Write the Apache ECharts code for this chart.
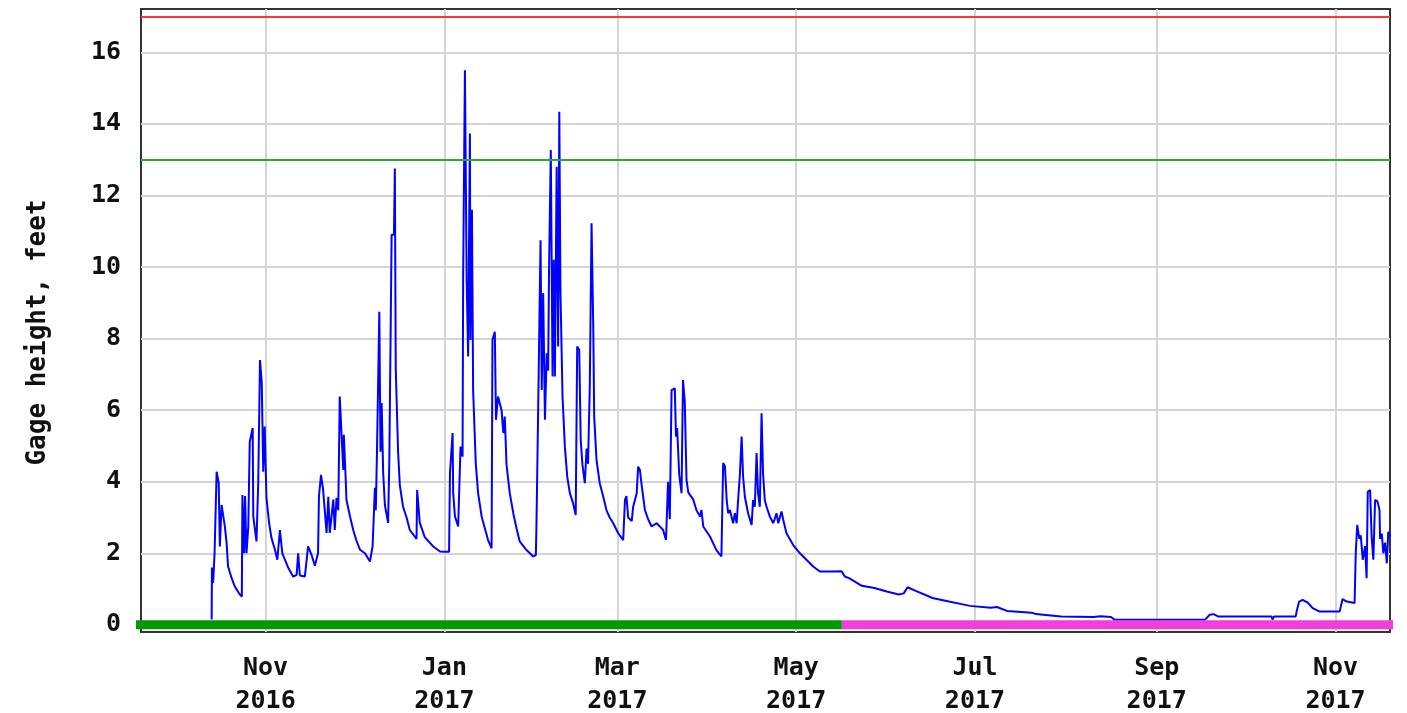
<!DOCTYPE html>
<html>
<head>
<meta charset="utf-8">
<title>Gage height</title>
<script src="https://cdn.jsdelivr.net/npm/echarts@6/dist/echarts.min.js"></script>
<style>
  html, body { margin: 0; padding: 0; background: #fff; }
  #main { width: 1407px; height: 713px; }
</style>
</head>
<body>
<div id="main"></div>
<script>
// days counted from 2016-11-01 (UTC), gage height in feet
const DAY = 86400000;
const BASE = Date.UTC(2016, 10, 1);

const days = [
  -18.4, -18.3, -17.9, -17.4, -16.7, -16.0, -15.6, -15.0, -13.9, -13.3, -12.8, -11.6, -10.5, -8.8, -8.1,
  -7.9, -7.3, -7.0, -6.5, -5.9, -5.4, -4.4, -4.2, -3.1, -2.5, -1.9, -1.3, -0.8, -0.3,
  0.3, 1.2, 2.0, 3.2, 4.0, 4.9, 5.7, 6.6, 7.7, 9.4, 10.6, 11.1, 11.7, 13.4, 14.5, 15.7, 16.8, 17.9, 18.2, 18.9,
  19.6, 20.8, 21.4, 21.9, 23.1, 23.6, 24.2, 24.8, 25.3, 25.9, 26.5, 26.7, 27.2, 27.6, 28.8, 29.9, 31.0, 32.2,
  33.9, 35.6, 36.5, 37.3, 37.6, 38.0, 38.8, 39.2, 39.6, 40.1, 40.7, 41.8, 42.2, 43.0, 43.8, 44.1, 44.4, 45.2,
  45.8, 46.9, 48.1, 49.2, 51.5, 51.7, 52.6, 54.3, 57.2, 59.5,
  61.2, 62.6, 62.9, 63.8, 64.0, 64.6, 65.7, 66.5, 67.2, 67.4, 68.0, 68.6, 69.1, 69.7, 69.9, 70.4, 70.8, 71.7,
  72.5, 73.7, 74.8, 75.9, 77.1, 77.4, 78.2, 78.6, 79.3, 80.5, 81.1, 81.6, 82.2, 83.3, 84.5, 85.6, 86.7, 89.0,
  91.3, 92.2, 92.4, 93.0, 93.8, 94.2, 94.7, 95.3, 95.9, 96.4, 96.7, 97.3, 97.9, 98.3, 98.7, 99.3, 99.8, 100.2,
  100.6, 101.3, 102.1, 102.9, 103.8, 104.9, 105.8, 106.3, 107.0, 107.5, 108.1, 108.9, 109.5, 110.0, 110.6,
  111.2, 111.8, 112.1, 112.9, 114.0, 115.2, 116.3, 117.4, 118.6, 120.3, 122.0, 122.6, 123.1, 123.7, 124.9,
  125.4, 126.6, 127.1, 127.7, 128.3, 129.4, 130.5, 131.7, 133.4, 134.5, 135.6, 136.6, 137.3, 137.9, 138.5,
  139.6, 140.0, 140.4, 141.1, 141.9, 142.4, 143.0, 143.6, 144.2, 145.9, 147.0,
  148.2, 148.7, 149.3, 151.6, 153.8, 155.5, 156.1, 156.7, 157.3, 157.8, 158.4, 159.5, 160.1, 160.7, 161.2,
  161.8, 162.4, 162.9, 163.5, 164.6, 165.8, 166.3, 166.9, 167.5, 168.0, 168.6, 169.2, 169.7, 170.3, 170.9,
  172.0, 173.2, 174.3, 174.9, 176.0, 176.6, 177.7, 180.0, 182.3, 184.5, 186.8, 189.1,
  193.3, 196.5, 197.6, 199.2, 203.4, 207.7, 211.9, 216.0, 217.7, 219.0, 221.8, 227.5, 233.1, 240.3, 247.3,
  249.5, 252.9, 261.4, 262.8, 271.3, 282.5, 284.8, 288.4, 289.7, 320.4, 322.1, 323.4, 325.1, 343.2, 343.5,
  344.0, 351.4, 351.8, 352.6, 353.8, 355.5, 357.2, 359.6, 366.4, 367.4, 368.8, 371.5, 371.9, 372.4, 373.1,
  373.6, 374.3, 375.1, 375.6, 376.0, 376.8, 377.3, 377.9, 378.5, 379.3, 380.0, 380.2, 380.8, 381.3, 381.9,
  382.5, 383.0, 383.6
];

const gage = [
  0.15, 1.6, 1.17, 2.0, 4.28, 3.97, 2.19, 3.35, 2.75, 2.29, 1.63, 1.31, 1.07, 0.85, 0.79,
  3.63, 2.0, 3.6, 2.0, 2.75, 5.12, 5.5, 3.03, 2.33, 4.0, 7.4, 6.76, 4.28, 5.54,
  3.55, 2.85, 2.43, 2.1, 1.82, 2.65, 2.0, 1.82, 1.6, 1.35, 1.4, 2.0, 1.38, 1.35, 2.19, 1.95, 1.65, 2.0, 3.58, 4.19,
  3.8, 2.57, 3.58, 2.57, 3.5, 2.65, 3.55, 3.2, 6.38, 6.42, 4.33, 5.31, 4.33, 3.49, 3.03, 2.65, 2.35, 2.1,
  2.0, 1.77, 2.19, 3.83, 3.2, 4.84, 8.75, 4.84, 6.2, 4.28, 3.35, 2.85, 4.52, 10.9, 10.9, 12.75, 7.18, 4.84,
  3.9, 3.3, 3.0, 2.65, 2.4, 3.77, 2.85, 2.45, 2.19, 2.05,
  2.04, 2.04, 4.24, 5.36, 3.68, 3.03, 2.75, 4.98, 4.7, 9.73, 15.5, 9.6, 7.5, 13.73, 7.96, 11.6, 6.56, 4.52,
  3.68, 3.03, 2.7, 2.37, 2.14, 7.96, 8.19, 5.73, 6.38, 6.0, 5.36, 5.82, 4.47, 3.68, 3.12, 2.7, 2.33, 2.09,
  1.91, 1.95, 2.75, 6.05, 10.75, 6.56, 9.27, 5.73, 7.59, 7.1, 9.92, 13.27, 6.94, 10.2, 6.94, 12.8, 7.78, 14.34,
  9.27, 6.38, 4.98, 4.14, 3.68, 3.4, 3.07, 7.78, 7.68, 5.17, 4.47, 3.96, 4.93, 4.5, 6.66,
  11.22, 8.24, 5.82, 4.6, 3.96, 3.58, 3.2, 3.0, 2.84, 2.56, 2.37, 3.49, 3.6, 3.0, 2.9,
  3.3, 3.68, 4.42, 4.33, 3.9, 3.21, 2.95, 2.75, 2.84, 2.75, 2.65, 2.37, 4.0, 2.95, 6.56,
  6.61, 5.26, 5.5, 4.2, 3.68, 6.84, 6.24, 4.05, 3.7, 3.5, 3.2,
  3.03, 3.21, 2.75, 2.47, 2.09, 1.91, 4.52, 4.43, 3.49, 3.12, 3.21, 2.84, 3.12, 2.84, 3.49,
  4.19, 5.26, 4.14, 3.58, 3.12, 2.79, 3.49, 3.3, 4.8, 3.68, 3.3, 5.91, 4.24, 3.49, 3.3,
  3.03, 2.84, 3.12, 2.84, 3.17, 2.93, 2.56, 2.23, 2.0, 1.82, 1.63, 1.49,
  1.49, 1.5, 1.35, 1.3, 1.09, 1.03, 0.93, 0.85, 0.88, 1.05, 0.95, 0.75, 0.65, 0.53, 0.48,
  0.5, 0.39, 0.34, 0.3, 0.23, 0.22, 0.24, 0.22, 0.14, 0.14, 0.28, 0.3, 0.23, 0.23, 0.15,
  0.23, 0.23, 0.4, 0.65, 0.7, 0.62, 0.47, 0.37, 0.37, 0.72, 0.65, 0.61, 2.0, 2.79, 2.4,
  2.5, 1.82, 2.2, 1.3, 3.72, 3.77, 2.5, 1.82, 3.49, 3.45, 3.21, 2.4, 2.55, 2.0, 2.3,
  1.72, 2.6, 2.47
];

// axis range and ticks
const axisStart = '2016-09-19T12:00:00Z';
const axisEnd = '2017-11-19T14:00:00Z';
const tickDates = ['2016-11-01', '2017-01-01', '2017-03-01', '2017-05-01', '2017-07-01', '2017-09-01', '2017-11-01'];
const tickLabels = ['Nov\n2016', 'Jan\n2017', 'Mar\n2017', 'May\n2017', 'Jul\n2017', 'Sep\n2017', 'Nov\n2017'];
const yTicks = [0, 2, 4, 6, 8, 10, 12, 14, 16];

// reference stages
const floodStage = 17;
const actionStage = 13;

// data status bar along zero: approved then provisional
const statusStart = '2016-09-17T12:00:00Z';
const approvedEnd = '2017-05-16T14:00:00Z';
const statusEnd = '2017-11-20T16:00:00Z';

const ms = s => new Date(s).getTime();
const tickTimes = tickDates.map(s => ms(s + 'T00:00:00Z'));
function monthLabel(v) {
  for (let i = 0; i < tickTimes.length; i++) {
    if (Math.abs(tickTimes[i] - v) < DAY) return tickLabels[i];
  }
  return '';
}

const FONT = 'DejaVu Sans Mono';
const seriesData = days.map((d, i) => [BASE + d * DAY, gage[i]]);

const chart = echarts.init(document.getElementById('main'));
chart.setOption({
  animation: false,
  backgroundColor: '#fff',
  grid: {
    left: 141, right: 17, top: 9, bottom: 81,
    outerBoundsMode: 'none',
    containLabel: false,
    show: true, borderColor: '#333', borderWidth: 2, backgroundColor: '#fff'
  },
  xAxis: {
    type: 'value',
    min: ms(axisStart),
    max: ms(axisEnd),
    axisLine: { show: false },
    axisTick: { show: false, customValues: tickTimes },
    splitLine: { show: true, lineStyle: { color: '#d4d4d4', width: 2 } },
    axisLabel: {
      customValues: tickTimes,
      formatter: v => monthLabel(v),
      fontFamily: FONT, fontWeight: 'bold', fontSize: 25, color: '#111',
      lineHeight: 33, margin: 20, hideOverlap: false
    }
  },
  yAxis: {
    type: 'value',
    min: -0.2,
    max: 17.21,
    name: 'Gage height, feet',
    nameLocation: 'middle',
    nameRotate: 90,
    nameGap: 90,
    nameTextStyle: {
      fontFamily: FONT, fontWeight: 'bold', fontSize: 26, color: '#111',
      padding: [0, 24, 0, 0]
    },
    axisLine: { show: false },
    axisTick: { show: false, customValues: yTicks },
    splitLine: { show: true, lineStyle: { color: '#d4d4d4', width: 2 } },
    axisLabel: {
      customValues: yTicks,
      fontFamily: FONT, fontWeight: 'bold', fontSize: 25, color: '#111', margin: 20
    }
  },
  series: [
    {
      name: 'Gage height',
      type: 'line',
      data: seriesData,
      showSymbol: false,
      lineStyle: { color: '#0000ff', width: 2 },
      z: 2,
      markLine: {
        silent: true,
        symbol: 'none',
        label: { show: false },
        data: [
          { yAxis: floodStage, lineStyle: { color: '#ff3333', width: 2, type: 'solid' } },
          { yAxis: actionStage, lineStyle: { color: '#2aaa2a', width: 2, type: 'solid' } }
        ]
      }
    },
    {
      name: 'Approved',
      type: 'line',
      data: [[ms(statusStart), 0], [ms(approvedEnd), 0]],
      showSymbol: false,
      clip: false,
      lineStyle: { color: '#009a00', width: 9, cap: 'butt' },
      z: 4
    },
    {
      name: 'Provisional',
      type: 'line',
      data: [[ms(approvedEnd), 0], [ms(statusEnd), 0]],
      showSymbol: false,
      clip: false,
      lineStyle: { color: '#f040d8', width: 9, cap: 'butt' },
      z: 4
    }
  ]
});
</script>
</body>
</html>
